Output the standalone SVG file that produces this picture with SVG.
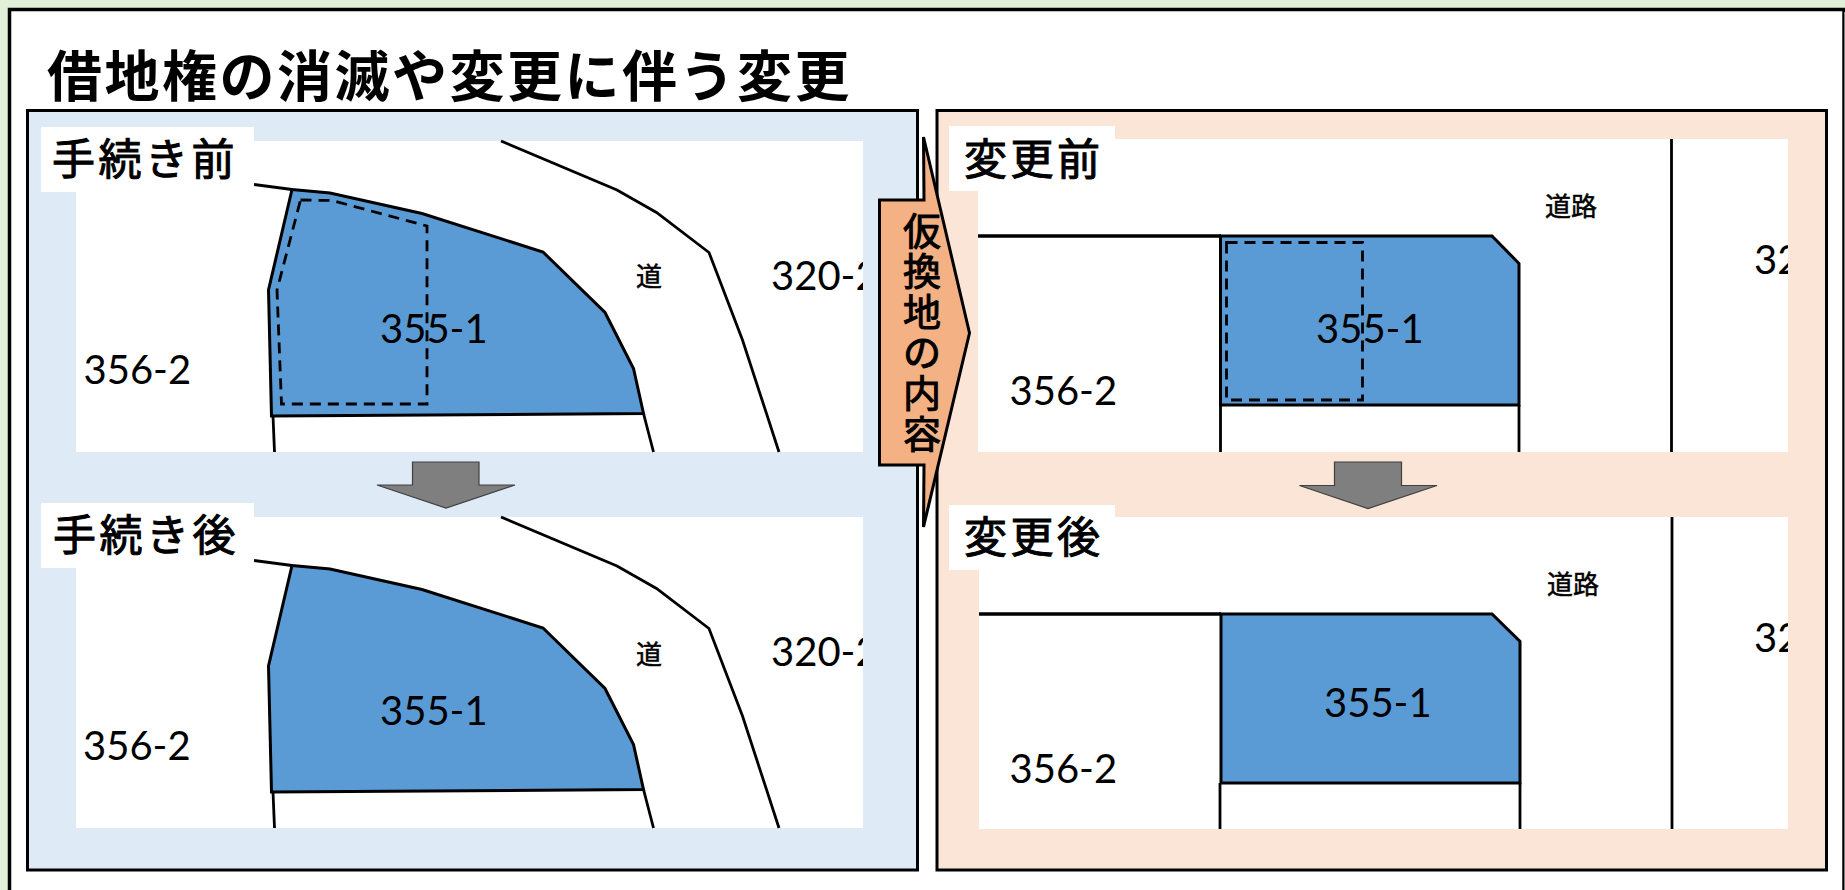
<svg xmlns="http://www.w3.org/2000/svg" width="1845" height="890" viewBox="0 0 1845 890">
<style>
.jp{font-family:"Noto Sans CJK JP","Noto Sans",sans-serif;fill:#000}
.num{font-family:Lato,"Liberation Sans",sans-serif;font-size:40px;fill:#000}
.lab{font-size:43px;font-weight:400;stroke:#000;stroke-width:1}
.road{font-size:26px;font-weight:400;stroke:#000;stroke-width:.5}
.ln{fill:none;stroke:#000;stroke-width:2.800}
.lot{fill:#5b9bd5;stroke:#000;stroke-width:3}
.dash{fill:none;stroke:#000;stroke-width:2.800;stroke-dasharray:11 7}
.arr{fill:#7f7f7f;stroke:#404040;stroke-width:1.200}
.w{fill:#fff}
</style>
<defs>
<clipPath id="cl"><rect x="76" y="141" width="787" height="687"/></clipPath>
<clipPath id="cr"><rect x="978" y="139" width="810" height="690"/></clipPath>
</defs>
<rect width="1845" height="890" fill="#e2efd9"/>
<g id="frame">
<rect x="9.500" y="9.500" width="1834.500" height="890" fill="#fff" stroke="#000" stroke-width="3.500"/>
<path d="M1844.500 12V890" stroke="#808080" stroke-width="1" fill="none"/>
</g>
<text id="title" class="jp" x="47" y="96" font-size="55" font-weight="700" letter-spacing="2.500">借地権の消滅や変更に伴う変更</text>
<g id="panel-left">
<rect x="27.500" y="110.500" width="890" height="759.500" fill="#deeaf6" stroke="#000" stroke-width="3"/>
<rect class="w" x="76" y="141" width="787" height="311"/>
<rect class="w" x="76" y="517" width="787" height="311"/>
</g>
<g id="panel-right">
<rect x="937" y="110.500" width="889.500" height="759.500" fill="#fbe5d6" stroke="#000" stroke-width="3"/>
<rect class="w" x="978" y="139" width="810" height="313"/>
<rect class="w" x="979" y="517" width="809" height="312"/>
</g>
<g id="connectors">
<path class="ln" d="M501 141L617 190L656.500 212.500L709 252.500L742.500 340L779 452"/>
<path class="ln" d="M254 184.500L292 189.500M643.500 413.500L653.500 452M273 416L274.500 452"/>
<path class="ln" d="M501 517L617 566L656.500 588.500L709 628.500L742.500 716L779 828"/>
<path class="ln" d="M254 560.500L292 565.500M643.500 789.500L653.500 828M273 792L274.500 828"/>
<path class="ln" d="M1220.500 405V452M1519 405V452M1671.500 139V452"/>
<path class="ln" d="M1220 783V829M1520 783V829M1672 517V829"/>
<path d="M978 236H1221M979 614H1221" fill="none" stroke="#000" stroke-width="3.500"/>
</g>
<g id="lot-before-left">
<path class="lot" d="M292 189.500L330 193L422 213.500L543 252L605 312.500L633.500 368.500L643.500 413.500L271.500 416L268.500 290Z"/>
<path class="dash" d="M300.500 200L332 200.500L427 226V404H281.500L277 290Z"/>
</g>
<g id="lot-after-left">
<path class="lot" d="M292 565.500L330 569L422 589.500L543 628L605 688.500L633.500 744.500L643.500 789.500L271.500 792L268.500 666Z"/>
</g>
<g id="lot-before-right">
<path class="lot" d="M1220.500 236H1492L1519 263.500V405H1220.500Z"/>
<path class="dash" d="M1226.500 242.500H1362.500V400H1226.500Z"/>
</g>
<g id="lot-after-right">
<path class="lot" d="M1221 614H1492L1520 641.500V783H1221Z"/>
</g>
<g id="arrow-left"><path class="arr" d="M412.500 462H479V485H515L446 508L377 485H412.500Z"/></g>
<g id="arrow-right"><path class="arr" d="M1334.500 462H1401.500V485.500H1437L1368 508.500L1299.500 485.500H1334.500Z"/></g>
<g id="labels-left">
<rect class="w" x="41" y="127" width="213" height="65"/>
<text class="jp lab" x="52" y="175" letter-spacing="3.500">手続き前</text>
<rect class="w" x="41" y="503" width="213" height="65"/>
<text class="jp lab" x="53" y="551" letter-spacing="3.500">手続き後</text>
<text class="num" x="380" y="343">355-1</text>
<text class="num" x="380" y="725">355-1</text>
<text class="num" x="83.500" y="384">356-2</text>
<text class="num" x="83" y="760">356-2</text>
<text class="num" x="771" y="290" clip-path="url(#cl)">320-2</text>
<text class="num" x="771" y="666" clip-path="url(#cl)">320-2</text>
<text class="jp road" x="636" y="286">道</text>
<text class="jp road" x="636" y="664">道</text>
</g>
<g id="labels-right">
<rect class="w" x="949" y="126" width="166" height="65"/>
<text class="jp lab" x="964" y="175" letter-spacing="3.500">変更前</text>
<rect class="w" x="949" y="505" width="166" height="65"/>
<text class="jp lab" x="964" y="553" letter-spacing="3.500">変更後</text>
<text class="num" x="1316" y="343">355-1</text>
<text class="num" x="1324" y="717">355-1</text>
<text class="num" x="1009.500" y="405">356-2</text>
<text class="num" x="1009.500" y="783">356-2</text>
<text class="num" x="1754" y="274" clip-path="url(#cr)">320-2</text>
<text class="num" x="1754" y="652" clip-path="url(#cr)">320-2</text>
<text class="jp road" x="1545" y="216">道路</text>
<text class="jp road" x="1547" y="594">道路</text>
</g>
<g id="callout">
<path d="M879.500 200H924L923.500 137L969.500 333L923.500 527L924 465H879.500Z" fill="#f4b183" stroke="#000" stroke-width="3"/>
<g class="jp" font-size="38" font-weight="400" stroke="#000" stroke-width="1" text-anchor="middle">
<text x="922" y="245">仮</text><text x="922" y="285">換</text><text x="922" y="325.500">地</text><text x="922" y="365.500">の</text><text x="922" y="406.500">内</text><text x="922" y="447.500">容</text>
</g>
</g>
</svg>
